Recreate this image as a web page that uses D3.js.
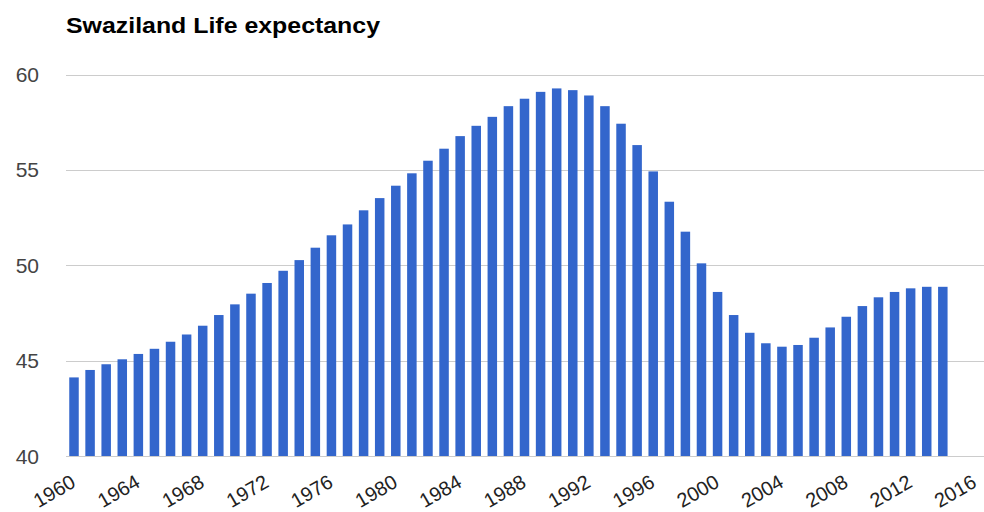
<!DOCTYPE html>
<html>
<head>
<meta charset="utf-8">
<script src="https://cdn.jsdelivr.net/npm/d3@7"></script>
<style>
  html, body { margin: 0; padding: 0; background: #fff; }
  svg { display: block; }
</style>
</head>
<body>
<svg id="chart" width="984" height="512"></svg>
<script>
const title = "Swaziland Life expectancy";
const years = d3.range(1960, 2015);
const lifeExpectancy = [
  44.12, 44.51, 44.81, 45.07, 45.35, 45.62, 45.99, 46.37, 46.83, 47.39,
  47.95, 48.51, 49.07, 49.71, 50.27, 50.92, 51.57, 52.14, 52.88, 53.52,
  54.17, 54.82, 55.48, 56.11, 56.77, 57.31, 57.78, 58.34, 58.73, 59.09,
  59.27, 59.18, 58.90, 58.34, 57.42, 56.30, 54.92, 53.33, 51.76, 50.10,
  48.60, 47.39, 46.46, 45.91, 45.73, 45.82, 46.20, 46.74, 47.30, 47.86,
  48.32, 48.60, 48.79, 48.87, 48.87
];
const yTicks = [40, 45, 50, 55, 60];
const xTicks = [1960, 1964, 1968, 1972, 1976, 1980, 1984, 1988, 1992, 1996, 2000, 2004, 2008, 2012, 2016];

const data = years.map((y, i) => ({ year: y, value: lifeExpectancy[i] }));

const svg = d3.select("#chart");
const font = "'Liberation Sans', Arial, sans-serif";

const x = d3.scaleLinear().domain([1960, 2016]).range([74, 975]);
const y = d3.scaleLinear().domain([40, 60]).range([456, 74.5]);
const barW = 9.5;

// gridlines
svg.append("g")
  .selectAll("line")
  .data(yTicks)
  .join("line")
  .attr("x1", 66).attr("x2", 984)
  .attr("y1", d => Math.round(y(d)) + 0.5)
  .attr("y2", d => Math.round(y(d)) + 0.5)
  .attr("stroke", "#cccccc")
  .attr("stroke-width", 1);

// bars
svg.append("g")
  .selectAll("rect")
  .data(data)
  .join("rect")
  .attr("x", d => x(d.year) - barW / 2)
  .attr("width", barW)
  .attr("y", d => y(d.value))
  .attr("height", d => y(40) - y(d.value))
  .attr("fill", "#3366cc");

// baseline
svg.append("line")
  .attr("x1", 66).attr("x2", 984)
  .attr("y1", Math.round(y(40)) + 0.5).attr("y2", Math.round(y(40)) + 0.5)
  .attr("stroke", "#cccccc");

// y labels
svg.append("g")
  .selectAll("text")
  .data(yTicks)
  .join("text")
  .attr("x", 39)
  .attr("y", d => y(d))
  .attr("dy", "0.36em")
  .attr("text-anchor", "end")
  .attr("font-family", font)
  .attr("font-size", 21)
  .attr("fill", "#444444")
  .text(d => d);

// x labels
svg.append("g")
  .selectAll("text")
  .data(xTicks)
  .join("text")
  .attr("text-anchor", "end")
  .attr("transform", d => `translate(${x(d) + 3},${486}) rotate(-30)`)
  .attr("font-family", font)
  .attr("font-size", 20)
  .attr("fill", "#222222")
  .text(d => d);

// title
svg.append("text")
  .attr("x", 66)
  .attr("y", 32.5)
  .attr("font-family", font)
  .attr("font-size", 22)
  .attr("font-weight", "bold")
  .attr("fill", "#000000")
  .attr("textLength", 314)
  .attr("lengthAdjust", "spacingAndGlyphs")
  .text(title);
</script>
</body>
</html>
